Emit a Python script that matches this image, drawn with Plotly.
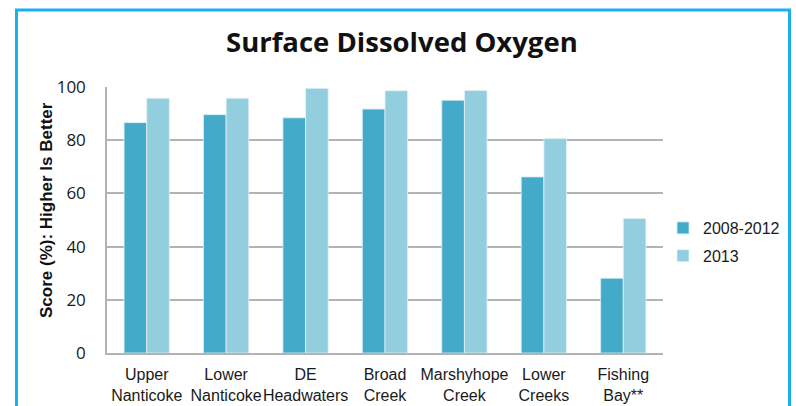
import plotly.graph_objects as go

# Watershed segments (two-line tick labels) and dissolved-oxygen scores
segments = [
    "Upper<br>Nanticoke",
    "Lower<br>Nanticoke",
    "DE<br>Headwaters",
    "Broad<br>Creek",
    "Marshyhope<br>Creek",
    "Lower<br>Creeks",
    "Fishing<br>Bay**",
]
score_2008_2012 = [86.6, 89.6, 88.4, 91.7, 95.0, 66.2, 28.1]
score_2013 = [95.8, 95.8, 99.5, 98.6, 98.7, 80.6, 50.6]
y_ticks = [0, 20, 40, 60, 80, 100]

W, H = 796, 406
ML, MR, MT, MB = 107, 133, 87, 53
PW, PH = W - ML - MR, H - MT - MB

DARK = "#43abc9"
LIGHT = "#93cedf"
GRID = "#b3b3b3"
FRAME = "#1ab0e8"


def px_to_paper_x(px):
    return (px - ML) / PW


def px_to_paper_y(py):
    return (H - MB - py) / PH


fig = go.Figure()
fig.add_trace(go.Bar(
    name="2008-2012", x=segments, y=score_2008_2012, legendgroup="a",
    marker=dict(color=DARK, line=dict(color="#d6eef5", width=0.8)),
))
fig.add_trace(go.Bar(
    name="2013", x=segments, y=score_2013, legendgroup="b",
    marker=dict(color=LIGHT, line=dict(color="#e4f3f8", width=0.8)),
))

fig.update_layout(
    width=W, height=H,
    margin=dict(l=ML, r=MR, t=MT, b=MB, pad=0, autoexpand=False),
    paper_bgcolor="white", plot_bgcolor="white",
    barmode="group", bargap=0.43, bargroupgap=0,
    showlegend=True,
    legend=dict(
        x=px_to_paper_x(663), y=px_to_paper_y(211),
        xanchor="left", yanchor="top", tracegroupgap=4,
        font=dict(family="Liberation Sans, Arial, sans-serif", size=16, color="#1a1a1a"),
        bgcolor="rgba(0,0,0,0)", itemclick=False,
    ),
    font=dict(family="Liberation Sans, Arial, sans-serif", color="#1a1a1a"),
)

fig.update_xaxes(
    showline=True, linecolor=GRID, linewidth=2, automargin=False,
    tickangle=0,
    tickfont=dict(family="Liberation Sans, Arial, sans-serif", size=16, color="#1a1a1a"),
    ticks="outside", ticklen=6, tickcolor="rgba(0,0,0,0)", showgrid=False,
)
fig.update_yaxes(
    range=[0, 100], tickvals=y_ticks, ticktext=[str(v) for v in y_ticks],
    showline=True, linecolor=GRID, linewidth=1.5, automargin=False,
    showgrid=True, gridcolor=GRID, gridwidth=1.5,
    ticks="outside", ticklen=16, tickcolor="rgba(0,0,0,0)",
    tickfont=dict(family="Open Sans, sans-serif", size=17, color="#1a1a1a"),
    zeroline=False,
)

# Chart title
fig.add_annotation(
    text="<b>Surface Dissolved Oxygen</b>",
    xref="paper", yref="paper",
    x=px_to_paper_x(402), y=px_to_paper_y(42),
    xanchor="center", yanchor="middle", showarrow=False,
    font=dict(family="Open Sans, sans-serif", size=27.5, color="#111111"),
)

# Vertical axis label
fig.add_annotation(
    text="<b>Score (%): Higher Is Better</b>",
    xref="paper", yref="paper",
    x=px_to_paper_x(46), y=px_to_paper_y(210),
    xanchor="center", yanchor="middle", textangle=-90, showarrow=False,
    font=dict(family="Liberation Sans, Arial, sans-serif", size=17, color="#111111"),
)

# Cyan frame around the panel
fig.add_shape(
    type="rect", xref="paper", yref="paper",
    x0=px_to_paper_x(16.5), x1=px_to_paper_x(789.5),
    y0=px_to_paper_y(450), y1=px_to_paper_y(10),
    line=dict(color=FRAME, width=3), fillcolor="rgba(0,0,0,0)", layer="above",
)

fig.write_html("out.html")
